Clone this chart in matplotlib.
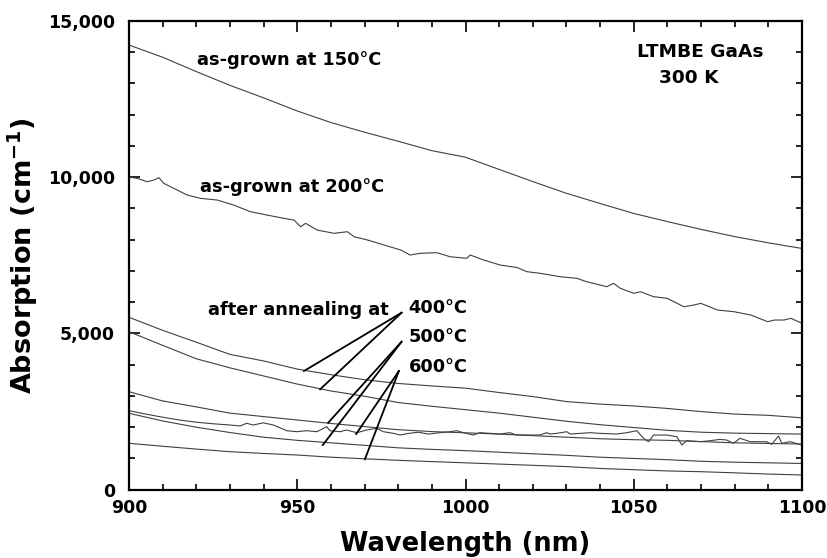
import matplotlib.pyplot as plt
from matplotlib.ticker import MultipleLocator, FuncFormatter

# =====================================================
# DATA
# =====================================================

wl = [900, 910, 920, 930, 940, 950, 960, 970, 980, 990, 1000,
      1010, 1020, 1030, 1040, 1050, 1060, 1070, 1080, 1090, 1100]

grown_150 = [14230, 13840, 13380, 12940, 12540, 12120, 11750, 11440, 11150, 10850, 10640,
             10250, 9860, 9485, 9160, 8840, 8580, 8330, 8100, 7900, 7720]

ann_400_a = [5517, 5100, 4720, 4330, 4120, 3860, 3680, 3520, 3400, 3320, 3250,
             3110, 2980, 2820, 2740, 2680, 2600, 2500, 2420, 2380, 2300]
ann_400_b = [5056, 4620, 4190, 3900, 3640, 3380, 3160, 2990, 2790, 2670, 2560,
             2450, 2320, 2190, 2080, 1990, 1900, 1840, 1810, 1795, 1780]
ann_500_a = [3136, 2840, 2650, 2450, 2340, 2230, 2120, 2020, 1920, 1860, 1820,
             1780, 1730, 1680, 1630, 1600, 1580, 1540, 1500, 1480, 1460]
ann_500_b = [2445, 2200, 2000, 1830, 1680, 1580, 1500, 1420, 1340, 1290, 1250,
             1200, 1150, 1100, 1040, 1000, 960, 910, 880, 860, 840]
ann_600_b = [1485, 1390, 1300, 1216, 1160, 1110, 1040, 990, 940, 900, 860,
             820, 780, 740, 680, 640, 600, 576, 540, 500, 470]

# noisy traces, picked point by point
wl_200 = [900.0, 902.4, 905.4, 907.4, 908.9, 910.3, 913.3, 917.3, 921.2, 926.2, 931.1,
          936.1, 941.0, 946.0, 949.0, 951.0, 952.5, 955.9, 960.9, 964.9, 966.9, 970.9,
          975.8, 980.8, 983.5, 986.5, 991.5, 995.4, 1000.4, 1001.4, 1005.4, 1010.3,
          1015.3, 1018.3, 1022.2, 1028.1, 1033.1, 1036.0, 1040.0, 1042.0, 1044.0,
          1046.0, 1050.0, 1052.0, 1055.9, 1059.9, 1064.9, 1067.9, 1069.9, 1074.9,
          1079.8, 1084.8, 1089.8, 1091.8, 1094.7, 1096.7, 1100.0]
grown_200 = [10006, 9965, 9856, 9910, 9984, 9805, 9645, 9430, 9325, 9270, 9110,
             8896, 8790, 8685, 8630, 8416, 8525, 8310, 8205, 8256, 8096, 7990,
             7830, 7670, 7510, 7565, 7585, 7456, 7405, 7510, 7350, 7190,
             7110, 6976, 6925, 6816, 6765, 6656, 6550, 6496, 6605,
             6445, 6285, 6336, 6176, 6125, 5856, 5910, 5965, 5750,
             5696, 5590, 5376, 5430, 5430, 5485, 5325]

wl_600a = [900, 905, 910, 915, 920, 925, 930.0, 933.0, 935.0, 936.9, 939.9, 942.9,
           946.9, 949.8, 952.8, 955.8, 958.8, 959.7, 962.7, 964.7, 967.7, 970.6,
           973.6, 975.6, 978.6, 980.5, 983, 986, 989, 992, 995.4, 997.4, 999.4,
           1002.3, 1004.3, 1010.3, 1013.2, 1015.2, 1022.1, 1024.1, 1025.1, 1027.1,
           1030.1, 1031.1, 1037.0, 1040.0, 1044.9, 1047.9, 1050.9, 1052.9, 1054.4,
           1055.9, 1059.8, 1062.8, 1064.3, 1065.7, 1069.7, 1072.7, 1075.6, 1077.6,
           1079.6, 1081.6, 1084.6, 1089.5, 1091.0, 1093.0, 1094.0, 1096.5, 1100.0]
ann_600_a = [2528, 2420, 2320, 2230, 2160, 2110, 2070, 2040, 2125, 2070, 2140, 2070,
             1888, 1856, 1888, 1856, 2016, 1888, 1856, 1910, 1824, 1910,
             1965, 1856, 1803, 1750, 1800, 1840, 1780, 1820, 1856, 1888, 1824,
             1750, 1824, 1782, 1824, 1750, 1750, 1824, 1782, 1803,
             1856, 1782, 1824, 1803, 1782, 1824, 1888, 1645, 1536,
             1750, 1750, 1696, 1430, 1568, 1536, 1568, 1610, 1590,
             1485, 1645, 1536, 1536, 1450, 1718, 1485, 1536, 1430]

# annotation text and pointer lines
label_texts = ["as-grown at 150°C", "as-grown at 200°C", "after annealing at",
               "LTMBE GaAs", "300 K", "400°C", "500°C", "600°C"]
label_x = [920.2, 921.1, 923.6, 1050.9, 1057.6, 983.0, 983.0, 983.3]
label_y = [13750, 9690, 5750, 14020, 13170, 5800, 4900, 3940]
label_size = [12.8, 12.8, 12.8, 13.3, 13.3, 12.8, 12.8, 12.8]

pointer_from = [(981.0, 5664), (981.0, 5664),
                (981.0, 4736), (981.0, 4736),
                (980.2, 3798), (980.2, 3798)]
pointer_to = [(952.0, 3798), (956.8, 3213),
              (959.2, 2144), (957.6, 1430),
              (967.5, 1782), (970.1, 973)]

# =====================================================
# PLOT
# =====================================================

plt.rcParams["font.family"] = "DejaVu Sans"
plt.rcParams["font.weight"] = "bold"

fig = plt.figure(figsize=(8.28, 5.58), dpi=100)
ax = fig.add_axes([0.1558, 0.1224, 0.8128, 0.84])

line_kw = dict(color="0.25", linewidth=0.8)

ax.plot(wl, grown_150, **line_kw)
ax.plot(wl_200, grown_200, **line_kw)
ax.plot(wl, ann_400_a, **line_kw)
ax.plot(wl, ann_400_b, **line_kw)
ax.plot(wl, ann_500_a, **line_kw)
ax.plot(wl_600a, ann_600_a, **line_kw)
ax.plot(wl, ann_500_b, **line_kw)
ax.plot(wl, ann_600_b, **line_kw)

for (x0, y0), (x1, y1) in zip(pointer_from, pointer_to):
    ax.plot([x0, x1], [y0, y1], color="black", linewidth=1.3)

for t, x, y, s in zip(label_texts, label_x, label_y, label_size):
    ax.text(x, y, t, fontsize=s, fontweight="bold", ha="left", va="center")

ax.set_xlim(900, 1100)
ax.set_ylim(0, 15000)

ax.xaxis.set_major_locator(MultipleLocator(50))
ax.xaxis.set_minor_locator(MultipleLocator(10))
ax.yaxis.set_major_locator(MultipleLocator(5000))
ax.yaxis.set_minor_locator(MultipleLocator(1000))
ax.yaxis.set_major_formatter(FuncFormatter(lambda v, p: f"{int(v):,}"))

ax.tick_params(which="both", direction="in", top=True, right=True, width=1.2)
ax.tick_params(which="major", length=8, labelsize=12.5)
ax.tick_params(axis="x", which="major", pad=7)
ax.tick_params(axis="y", which="major", pad=10)
ax.tick_params(which="minor", length=4.5)

for s in ax.spines.values():
    s.set_linewidth(1.6)

ax.set_xlabel("Wavelength (nm)", fontsize=18.5, fontweight="bold", labelpad=10)
ax.set_ylabel(r"Absorption (cm$^{\mathbf{-1}}$)", fontsize=19.5, fontweight="bold", labelpad=6)

plt.savefig("out.png", dpi=100)
